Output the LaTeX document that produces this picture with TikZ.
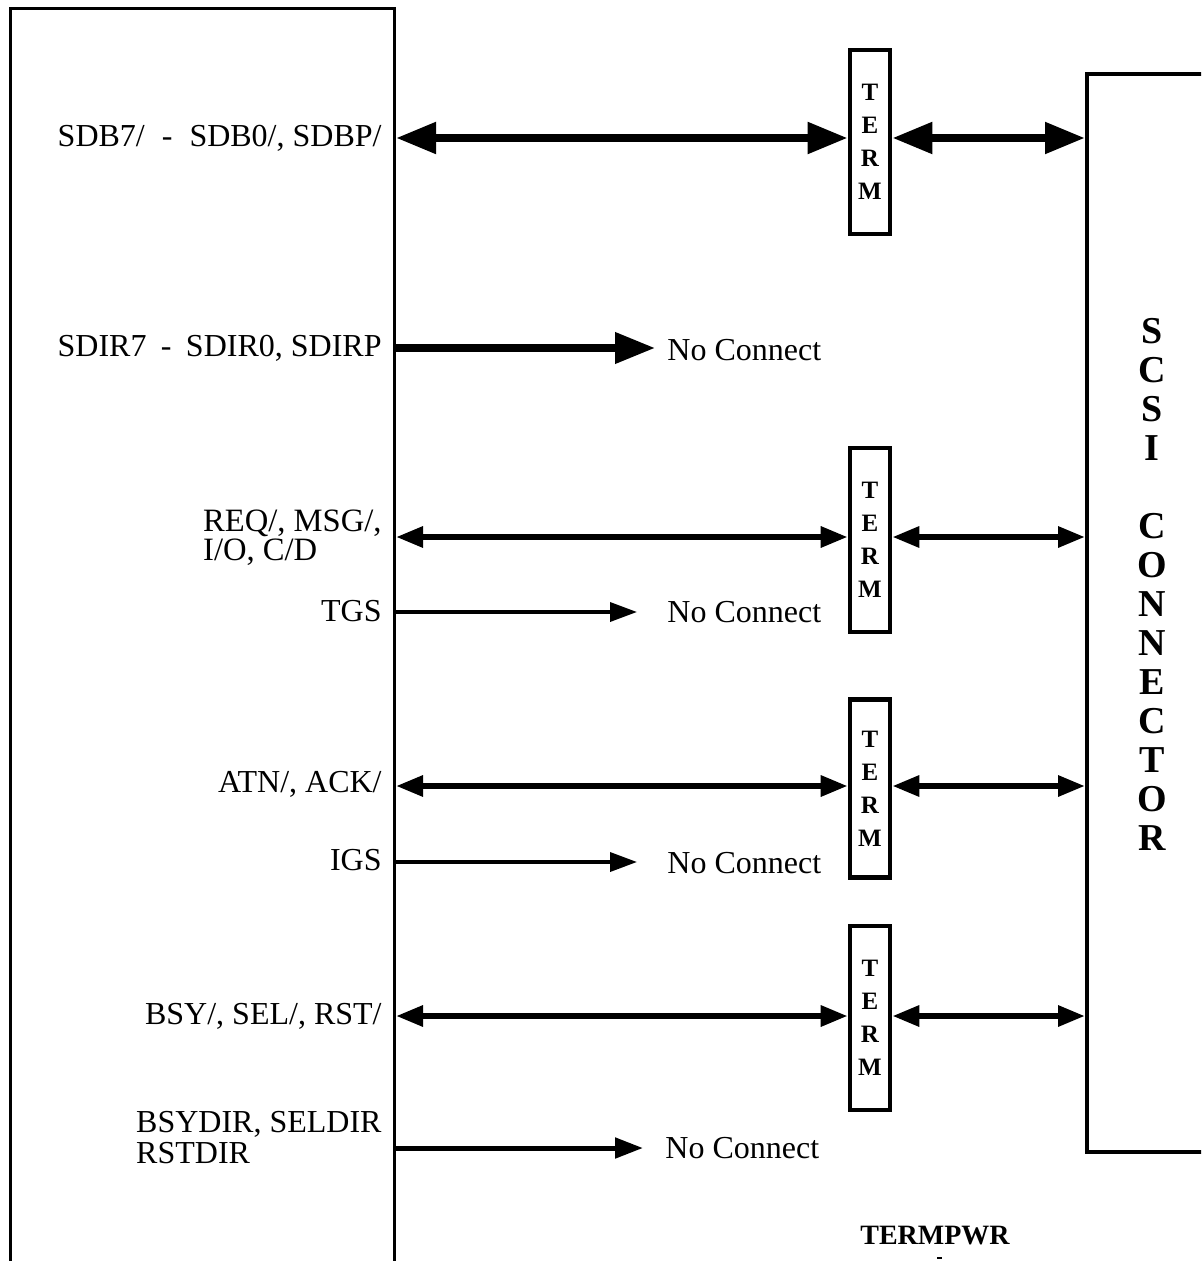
\documentclass[tikz,border=0pt]{standalone}
\usepackage{fontspec}
\setmainfont{Liberation Serif}
\usetikzlibrary{arrows.meta}
\begin{document}
\begin{tikzpicture}[x=0.5pt,y=-0.5pt,
  lbl/.style={font=\fontsize{16}{12}\selectfont, inner sep=0pt, anchor=east, align=left},
  nc/.style={font=\fontsize{16}{12}\selectfont, inner sep=0pt, anchor=west},
  termbox/.style={draw, line width=2.3pt, minimum width=20pt, inner sep=0pt,
    font=\bfseries\fontsize{12.5}{16.5}\selectfont, align=center},
  bigbi/.style={line width=4pt, {Triangle[length=20pt,width=15pt]}-{Triangle[length=20pt,width=15pt]}},
  bigone/.style={line width=3.6pt, -{Triangle[length=20pt,width=15pt]}},
  midbi/.style={line width=3pt, {Triangle[length=13.5pt,width=10pt]}-{Triangle[length=13.5pt,width=10pt]}},
  midone/.style={line width=2.5pt, -{Triangle[length=14pt,width=10pt]}},
  thinone/.style={line width=1.8pt, -{Triangle[length=13.5pt,width=9.5pt]}}
]
\useasboundingbox (0,0) rectangle (1201,1261);
\begin{scope}
\clip (0,0) rectangle (1201,1261);
% chip box
\node[draw, line width=1.5pt, minimum width=192pt, minimum height=700pt,
  anchor=north west, inner sep=0pt] (chip) at (9,7) {};
% SCSI connector box
\node[draw, line width=2pt, minimum width=150pt, minimum height=539pt,
  anchor=north west, inner sep=0pt] (scsi) at (1085,72) {};
\end{scope}
\node[font=\bfseries\fontsize{19}{19.5}\selectfont, align=center, inner sep=0pt]
  (scsitext) at (1152,584) {S\\C\\S\\I\\[19.5pt]C\\O\\N\\N\\E\\C\\T\\O\\R};

% TERM boxes
\node[termbox, minimum height=92pt] (t1) at (870,142) {T\\E\\R\\M};
\node[termbox, minimum height=92pt] (t2) at (870,540) {T\\E\\R\\M};
\node[termbox, minimum height=89pt] (t3) at (870,788.5) {T\\E\\R\\M};
\node[termbox, minimum height=92pt] (t4) at (870,1018) {T\\E\\R\\M};

% row coordinates
\coordinate (r1) at (0,138);
\coordinate (r2) at (0,348);
\coordinate (r3) at (0,537);
\coordinate (r4) at (0,612);
\coordinate (r5) at (0,786);
\coordinate (r6) at (0,862);
\coordinate (r7) at (0,1016);
\coordinate (r8) at (0,1148);

% labels
\node[lbl] (l1) at (382,138) {SDB7/\hspace{4.5pt} - \hspace{4.5pt}SDB0/, SDBP/};
\node[lbl] (l2) at (382,348) {SDIR7\hspace{3.2pt} - \hspace{3.2pt}SDIR0, SDIRP};
\node[lbl, font=\fontsize{16.3}{14.5}\selectfont] (l3) at (382,538) {REQ/, MSG/,\\I/O, C/D};
\node[lbl] (l4) at (382,611) {TGS};
\node[lbl] (l5) at (382,784) {ATN/, ACK/};
\node[lbl] (l6) at (382,860) {IGS};
\node[lbl] (l7) at (382,1016) {BSY/, SEL/, RST/};
\node[lbl, font=\fontsize{16}{15.5}\selectfont] (l8) at (382,1138) {BSYDIR, SELDIR\\RSTDIR};

\node[nc] (n2) at (667,350) {No Connect};
\node[nc] (n4) at (667,612) {No Connect};
\node[nc] (n6) at (667,863) {No Connect};
\node[nc] (n8) at (665,1148) {No Connect};

\coordinate (e2) at (655,348);
\coordinate (e4) at (637,612);
\coordinate (e6) at (637,862);
\coordinate (e8) at (643,1148);

% connectors
\draw[bigbi] (chip.east |- r1) -- (t1.west |- r1);
\draw[bigbi] (t1.east |- r1) -- (scsi.west |- r1);
\draw[bigone] (chip.east |- r2) -- (e2);
\draw[midbi] (chip.east |- r3) -- (t2.west |- r3);
\draw[midbi] (t2.east |- r3) -- (scsi.west |- r3);
\draw[thinone] (chip.east |- r4) -- (e4);
\draw[midbi] (chip.east |- r5) -- (t3.west |- r5);
\draw[midbi] (t3.east |- r5) -- (scsi.west |- r5);
\draw[thinone] (chip.east |- r6) -- (e6);
\draw[midbi] (chip.east |- r7) -- (t4.west |- r7);
\draw[midbi] (t4.east |- r7) -- (scsi.west |- r7);
\draw[midone] (chip.east |- r8) -- (e8);

\node[font=\bfseries\fontsize{14}{14}\selectfont, inner sep=0pt] (tp) at (935,1236) {TERMPWR};
\draw[line width=1pt] (937,1258) -- (942,1258);
\end{tikzpicture}
\end{document}
